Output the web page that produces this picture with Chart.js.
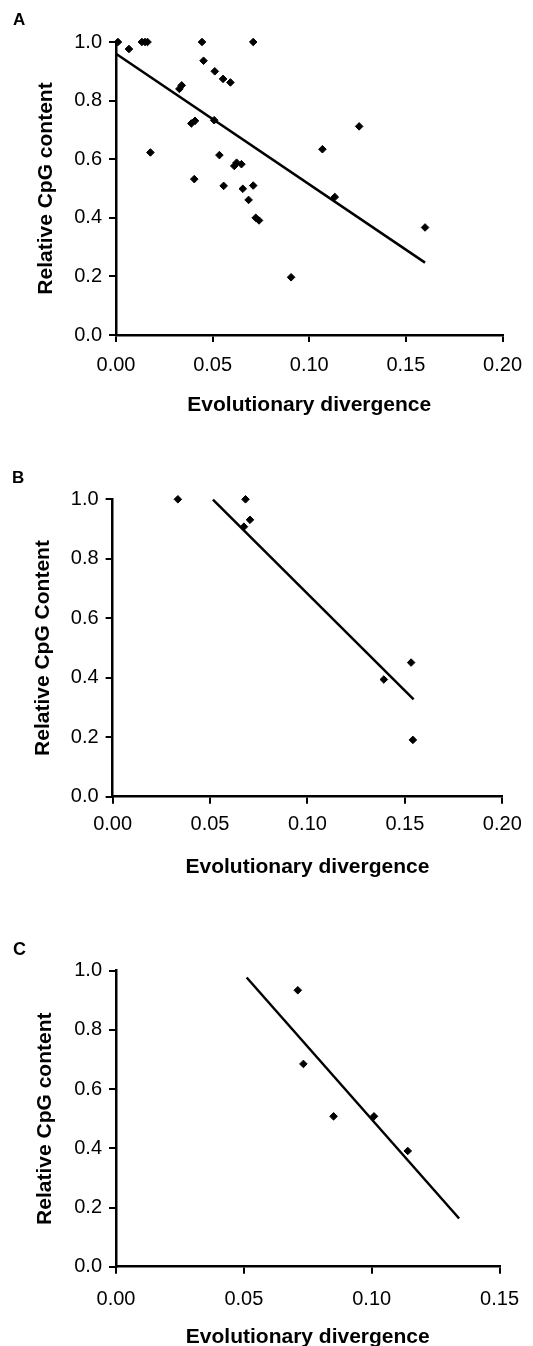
<!DOCTYPE html>
<html>
<head>
<meta charset="utf-8">
<script src="https://cdn.jsdelivr.net/npm/chart.js@4/dist/chart.umd.min.js"></script>
<style>
    html, body {
        margin: 0;
        padding: 0;
        background: #fff;
        overflow: hidden;
    }

    .panel {
        position: absolute;
        left: 0;
        width: 533px;
    }

    .letter {
        position: absolute;
        font-family: "Liberation Sans", Arial, sans-serif;
        font-weight: bold;
        line-height: 1;
        color: #000;
    }
</style>
</head>
<body>

<div class="panel" style="top:0px;height:460px;">
    <canvas id="chartA" width="533" height="460"></canvas>
</div>

<div class="panel" style="top:460px;height:440px;">
    <canvas id="chartB" width="533" height="440"></canvas>
</div>

<div class="panel" style="top:900px;height:460px;">
    <canvas id="chartC" width="533" height="460"></canvas>
</div>

<span class="letter" style="left:13px;top:11px;font-size:17px;">A</span>
<span class="letter" style="left:12px;top:469px;font-size:17px;">B</span>
<span class="letter" style="left:13px;top:940px;font-size:18px;">C</span>

<script>

// PANEL A
const divergenceA = [
    0.001, 0.0067, 0.0134, 0.0150, 0.0163, 0.0178, 0.0328, 0.0340,
    0.0390, 0.0409, 0.0405, 0.0445, 0.0453, 0.0511, 0.0508, 0.0554,
    0.0592, 0.0535, 0.0557, 0.0612, 0.0624, 0.0649, 0.0656, 0.0710,
    0.0686, 0.0710, 0.0723, 0.0740, 0.0906, 0.1068, 0.1132, 0.1258,
    0.1599
];

const cpgA = [
    1.000, 0.976, 1.000, 1.000, 1.000, 0.623, 0.840, 0.852,
    0.722, 0.731, 0.532, 1.000, 0.936, 0.900, 0.733, 0.874,
    0.862, 0.614, 0.509, 0.577, 0.588, 0.583, 0.499, 0.510,
    0.461, 1.000, 0.400, 0.391, 0.197, 0.634, 0.471, 0.712,
    0.367
];

const fitXA = [0, 0.1599];
const fitYA = [0.960, 0.247];

// PANEL B
const divergenceB = [0.0335, 0.0682, 0.0705, 0.0674, 0.1392, 0.1532, 0.1541];
const cpgB = [1.000, 1.000, 0.931, 0.908, 0.394, 0.451, 0.191];

const fitXB = [0.0515, 0.1545];
const fitYB = [0.999, 0.327];

// PANEL C
const divergenceC = [0.0711, 0.0733, 0.0851, 0.1009, 0.1141];
const cpgC = [0.934, 0.685, 0.508, 0.508, 0.391];

const fitXC = [0.0511, 0.1342];
const fitYC = [0.977, 0.163];

// TICKS
const xTicksAB = [0, 0.05, 0.10, 0.15, 0.20];
const xTicksC = [0, 0.05, 0.10, 0.15];
const yTicks = [0, 0.2, 0.4, 0.6, 0.8, 1.0];

const xTitle = "Evolutionary divergence";

const FONT = "'Liberation Sans', Arial, sans-serif";

function toPoints(xs, ys) {

    return xs.map((x, i) => ({ x: x, y: ys[i] }));
}

function makePanel(id, p) {

    const ctx =
        document.getElementById(id);

    return new Chart(ctx, {

        type: "scatter",

        data: {

            datasets: [
                {
                    data: toPoints(p.xs, p.ys),
                    pointStyle: "rectRot",
                    pointRadius: 3.8,
                    pointBackgroundColor: "#000",
                    pointBorderColor: "#000",
                    pointBorderWidth: 1,
                    showLine: false,
                    clip: false
                },
                {
                    data: toPoints(p.fitX, p.fitY),
                    showLine: true,
                    borderColor: "#000",
                    borderWidth: 2.5,
                    pointRadius: 0,
                    clip: false
                }
            ]
        },

        options: {

            responsive: false,
            animation: false,
            devicePixelRatio: 1,

            layout: {
                padding: { left: 0, top: p.top, right: p.right, bottom: 0 }
            },

            plugins: {
                legend: { display: false },
                tooltip: { enabled: false }
            },

            scales: {

                x: {
                    type: "linear",
                    min: 0,
                    max: p.xTicks[p.xTicks.length - 1],
                    afterBuildTicks: s => {
                        s.ticks = p.xTicks.map(v => ({ value: v }));
                    },
                    afterFit: s => { s.height = p.xHeight; },
                    border: { display: true, color: "#000", width: 2.5 },
                    grid: {
                        drawOnChartArea: false,
                        drawTicks: true,
                        tickLength: 7,
                        color: "#000",
                        lineWidth: 2
                    },
                    ticks: {
                        padding: p.xPad,
                        maxRotation: 0,
                        color: "#000",
                        font: { family: FONT, size: 20 },
                        callback: v => v.toFixed(2)
                    },
                    title: {
                        display: true,
                        text: xTitle,
                        color: "#000",
                        font: { family: FONT, size: 21, weight: "bold" },
                        padding: { top: 0, bottom: p.xTitlePad }
                    }
                },

                y: {
                    type: "linear",
                    min: 0,
                    max: 1,
                    afterBuildTicks: s => {
                        s.ticks = yTicks.map(v => ({ value: v }));
                    },
                    afterFit: s => { s.width = p.left; },
                    border: { display: true, color: "#000", width: 2.5 },
                    grid: {
                        drawOnChartArea: false,
                        drawTicks: true,
                        tickLength: 7,
                        color: "#000",
                        lineWidth: 2
                    },
                    ticks: {
                        padding: 7,
                        color: "#000",
                        font: { family: FONT, size: 20 },
                        callback: v => v.toFixed(1)
                    },
                    title: {
                        display: true,
                        text: p.yTitle,
                        color: "#000",
                        font: { family: FONT, size: 21, weight: "bold" },
                        padding: { top: p.yTitlePad, bottom: 0 }
                    }
                }
            }
        }
    });
}

makePanel("chartA", {
    xs: divergenceA, ys: cpgA, fitX: fitXA, fitY: fitYA,
    xTicks: xTicksAB, yTitle: "Relative CpG content",
    top: 42, right: 22.5, left: 116, xHeight: 125,
    xPad: 11, xTitlePad: 42, yTitlePad: 34
});

makePanel("chartB", {
    xs: divergenceB, ys: cpgB, fitX: fitXB, fitY: fitYB,
    xTicks: xTicksAB, yTitle: "Relative CpG Content",
    top: 39.3, right: 30.7, left: 112.6, xHeight: 103.3,
    xPad: 9, xTitlePad: 20, yTitlePad: 31
});

makePanel("chartC", {
    xs: divergenceC, ys: cpgC, fitX: fitXC, fitY: fitYC,
    xTicks: xTicksC, yTitle: "Relative CpG content",
    top: 70.7, right: 28.3, left: 116, xHeight: 93.3,
    xPad: 14, xTitlePad: 10, yTitlePad: 33
});

</script>
</body>
</html>
